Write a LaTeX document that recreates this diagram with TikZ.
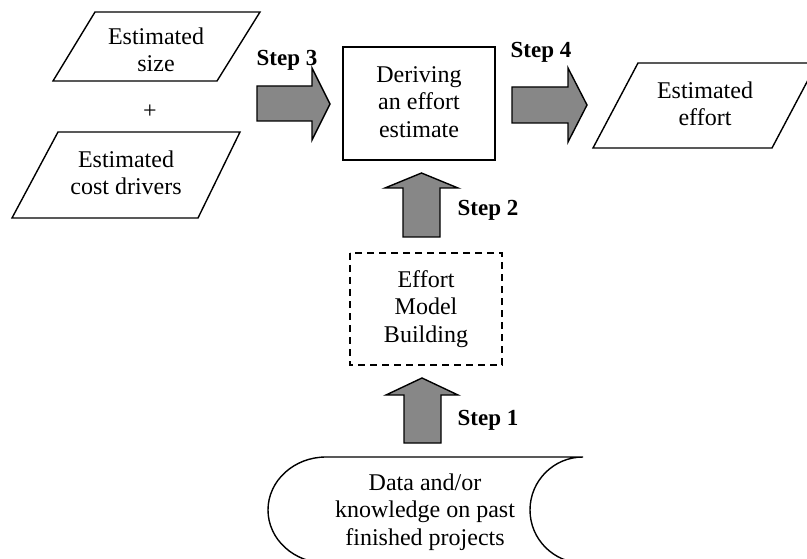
\documentclass[tikz,border=0pt]{standalone}
\usepackage{fontspec}
\setmainfont{Liberation Serif}
\begin{document}
\begin{tikzpicture}[x=1pt,y=-1pt,
  txt/.style={font=\fontsize{24}{27.5}\selectfont, align=center, inner sep=0pt},
  steplbl/.style={font=\fontsize{23}{27}\selectfont\bfseries, inner sep=0pt},
  outline/.style={draw=black, line width=1.4pt, line join=miter},
  blockarrow/.style={draw=black, line width=1.4pt, fill=arrowgray, line join=miter},
  dashbox/.style={draw=black, line width=1.4pt, dash pattern=on 7pt off 5pt}]
\definecolor{arrowgray}{RGB}{135,135,135}
\useasboundingbox (0,0) rectangle (807,559);
\fill[white] (0,0) rectangle (807,559);

% Estimated size
\draw[outline] (95,12) -- (260,12) -- (217,81) -- (53,81) -- cycle;
\node[txt] (size) at (156,50) {Estimated\\size};
\node[txt] (plus) at (150,112) {+};
% Estimated cost drivers
\draw[outline] (58,132) -- (240,132) -- (198,218) -- (12,218) -- cycle;
\node[txt] (cost) at (126,173) {Estimated\\cost drivers};

% Step 3 arrow
\node[steplbl] (s3) at (287,60) {Step 3};
\draw[blockarrow] (257,86) -- (312,86) -- (312,68) -- (330,104) -- (312,140) -- (312,121) -- (257,121) -- cycle;

% Deriving box
\draw[outline] (343,47) rectangle (495,160);
\node[txt] (derive) at (419,102) {Deriving\\an effort\\estimate};

% Step 4 arrow
\node[steplbl] (s4) at (541,52) {Step 4};
\draw[blockarrow] (512,87) -- (568,87) -- (568,68) -- (587,105) -- (568,142) -- (568,123) -- (512,123) -- cycle;

% Estimated effort
\draw[outline] (638,63) -- (817,63) -- (772,148) -- (593,148) -- cycle;
\node[txt] (effort) at (705,104) {Estimated\\effort};

% Step 2 arrow
\draw[blockarrow] (403,237) -- (403,188) -- (385,188) -- (421.5,173) -- (458,188) -- (440,188) -- (440,237) -- cycle;
\node[steplbl] (s2) at (488,210) {Step 2};

% Effort model building
\draw[dashbox] (350,253) rectangle (502,365);
\node[txt] (model) at (426,309) {Effort\\Model\\Building};

% Step 1 arrow
\draw[blockarrow] (404,443) -- (404,395) -- (386,395) -- (422,378) -- (458,395) -- (441,395) -- (441,443) -- cycle;
\node[steplbl] (s1) at (488,420) {Step 1};

% Stored data
\draw[outline] (326,457) -- (583,457)
  arc[start angle=270, end angle=90, x radius=53, y radius=53]
  -- (326,563)
  arc[start angle=90, end angle=270, x radius=58, y radius=53];
\node[txt] (data) at (425,512) {Data and/or\\knowledge on past\\finished projects};
\end{tikzpicture}
\end{document}
